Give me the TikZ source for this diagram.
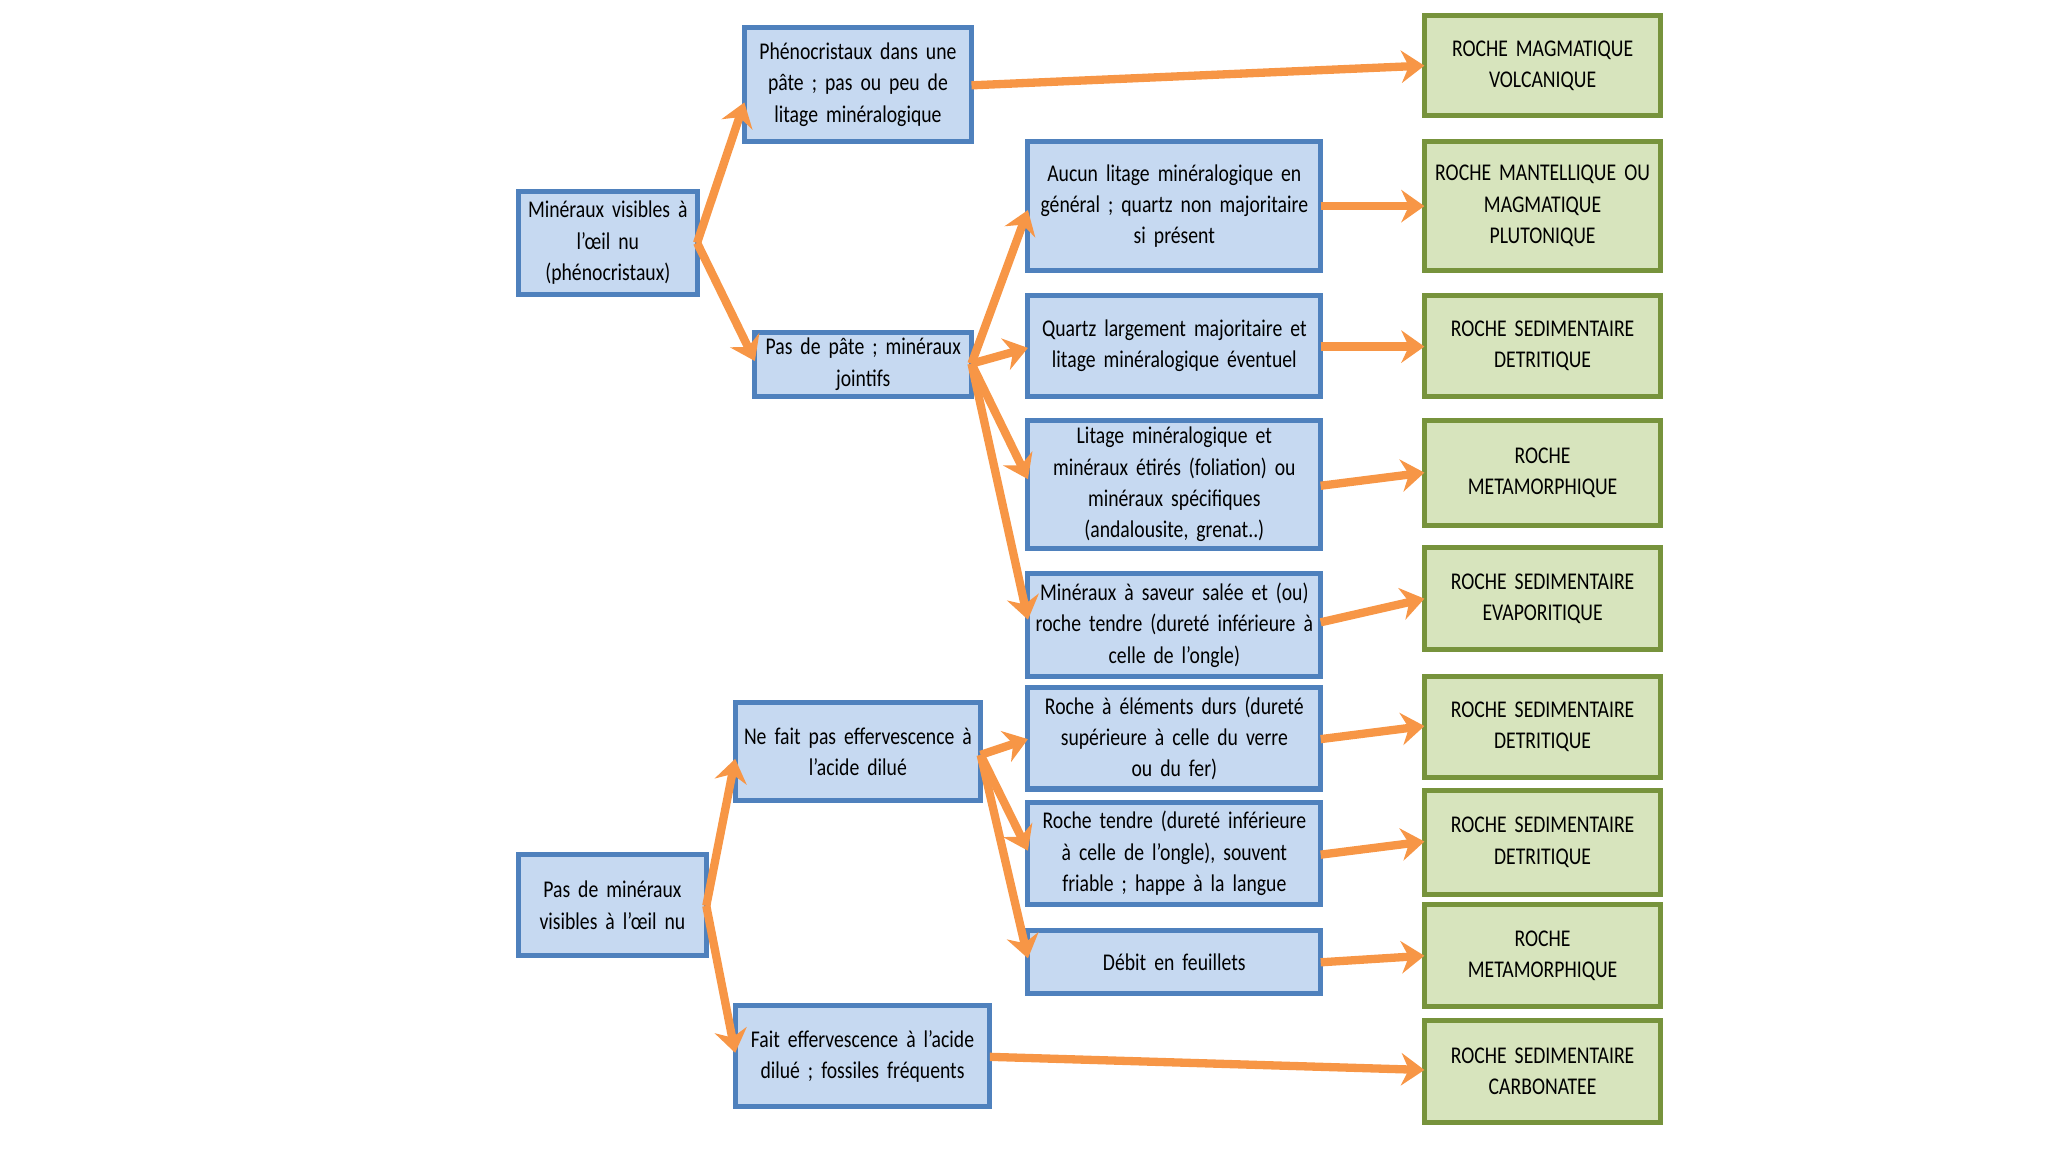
\documentclass[tikz,border=0pt]{standalone}
\usepackage{fontspec}
\setmainfont{Carlito}[FakeStretch=0.82]
\usetikzlibrary{arrows.meta}
\definecolor{bfill}{HTML}{C6D9F1}
\definecolor{bdraw}{HTML}{4F81BD}
\definecolor{gfill}{HTML}{D7E4BD}
\definecolor{gdraw}{HTML}{77933C}
\definecolor{arr}{HTML}{F79646}
\begin{document}
\begin{tikzpicture}[x=0.01cm,y=-0.01cm,
  box/.style={draw=bdraw,fill=bfill,line width=1.1pt,align=center,inner sep=0pt,font=\fontsize{5.2}{6.8}\selectfont},
  gbox/.style={draw=gdraw,fill=gfill,line width=1.1pt,align=center,inner sep=0pt,font=\fontsize{5.2}{6.8}\selectfont},
  ar/.style={draw=arr,line width=1.8pt,-{Stealth[length=5pt,width=7pt]}}]
\useasboundingbox (0,0) rectangle (1560,878);
\newcommand{\bx}[7]{\node[#1,text width={(#4-#3)*0.01cm},minimum height={(#6-#5)*0.01cm}] (#2) at ({(#3+#4)/2},{(#5+#6)/2}) {#7};}
\bx{box}{A}{395}{531}{146}{224}{Minéraux visibles à\\l’œil nu\\(phénocristaux)}
\bx{box}{B}{567}{740}{21}{108}{Phénocristaux dans une\\pâte ; pas ou peu de\\litage minéralogique}
\bx{box}{C}{575}{740}{253}{302}{Pas de pâte ; minéraux\\jointifs}
\bx{box}{D}{783}{1006}{108}{206}{Aucun litage minéralogique en\\général ; quartz non majoritaire\\si présent}
\bx{box}{E}{783}{1006}{225}{302}{Quartz largement majoritaire et\\litage minéralogique éventuel}
\bx{box}{F}{783}{1006}{320}{418}{Litage minéralogique et\\minéraux étirés (foliation) ou\\minéraux spécifiques\\(andalousite, grenat..)}
\bx{box}{G}{783}{1006}{437}{515}{Minéraux à saveur salée et (ou)\\roche tendre (dureté inférieure à\\celle de l’ongle)}
\bx{box}{H}{560}{747}{535}{610}{Ne fait pas effervescence à\\l’acide dilué}
\bx{box}{I}{783}{1006}{524}{601}{Roche à éléments durs (dureté\\supérieure à celle du verre\\ou du fer)}
\bx{box}{J}{783}{1006}{611}{689}{Roche tendre (dureté inférieure\\à celle de l’ongle), souvent\\friable ; happe à la langue}
\bx{box}{K}{783}{1006}{709}{757}{Débit en feuillets}
\bx{box}{L}{395}{538}{651}{728}{Pas de minéraux\\visibles à l’œil nu}
\bx{box}{M}{560}{754}{766}{843}{Fait effervescence à l’acide\\dilué ; fossiles fréquents}
\bx{gbox}{G1}{1085}{1265}{12}{88}{ROCHE MAGMATIQUE\\VOLCANIQUE\\[4pt]}
\bx{gbox}{G2}{1085}{1265}{108}{206}{ROCHE MANTELLIQUE OU\\MAGMATIQUE\\PLUTONIQUE\\[4pt]}
\bx{gbox}{G3}{1085}{1265}{225}{302}{ROCHE SEDIMENTAIRE\\DETRITIQUE\\[6pt]}
\bx{gbox}{G4}{1085}{1265}{320}{400}{ROCHE\\METAMORPHIQUE\\[6pt]}
\bx{gbox}{G5}{1085}{1265}{417}{495}{ROCHE SEDIMENTAIRE\\EVAPORITIQUE\\[6pt]}
\bx{gbox}{G6}{1085}{1265}{515}{592}{ROCHE SEDIMENTAIRE\\DETRITIQUE\\[6pt]}
\bx{gbox}{G7}{1085}{1265}{602}{681}{ROCHE SEDIMENTAIRE\\DETRITIQUE\\[6pt]}
\bx{gbox}{G8}{1085}{1265}{689}{767}{ROCHE\\METAMORPHIQUE\\[6pt]}
\bx{gbox}{G9}{1085}{1265}{777}{855}{ROCHE SEDIMENTAIRE\\CARBONATEE\\[6pt]}
\coordinate (a0) at (531,185);
\coordinate (c0) at (740,277);
\coordinate (h0) at (747,575);
\coordinate (l0) at (538,690);
\coordinate (tB) at (567,78);
\coordinate (tC) at (575,275);
\coordinate (tD) at (783,160);
\coordinate (tE) at (783,265);
\coordinate (tF) at (783,365);
\coordinate (tG) at (783,472);
\coordinate (tI) at (783,563);
\coordinate (tJ) at (783,648);
\coordinate (tK) at (783,730);
\coordinate (tH) at (560,578);
\coordinate (tM) at (560,802);
\draw[ar] (a0) -- (tB);
\draw[ar] (a0) -- (tC);
\draw[ar] (c0) -- (tD);
\draw[ar] (c0) -- (tE);
\draw[ar] (c0) -- (tF);
\draw[ar] (c0) -- (tG);
\draw[ar] (h0) -- (tI);
\draw[ar] (h0) -- (tJ);
\draw[ar] (h0) -- (tK);
\draw[ar] (l0) -- (tH);
\draw[ar] (l0) -- (tM);
\coordinate (s1) at (740,65);  \coordinate (e1) at (1085,50);
\coordinate (s2) at (1006,157); \coordinate (e2) at (1085,157);
\coordinate (s3) at (1006,264); \coordinate (e3) at (1085,264);
\coordinate (s4) at (1006,370); \coordinate (e4) at (1085,360);
\coordinate (s5) at (1006,474); \coordinate (e5) at (1085,456);
\coordinate (s6) at (1006,563); \coordinate (e6) at (1085,553);
\coordinate (s7) at (1006,651); \coordinate (e7) at (1085,641);
\coordinate (s8) at (1006,733); \coordinate (e8) at (1085,728);
\coordinate (s9) at (754,805);  \coordinate (e9) at (1085,815);
\foreach \i in {1,...,9} {\draw[ar] (s\i) -- (e\i);}
\end{tikzpicture}
\end{document}
